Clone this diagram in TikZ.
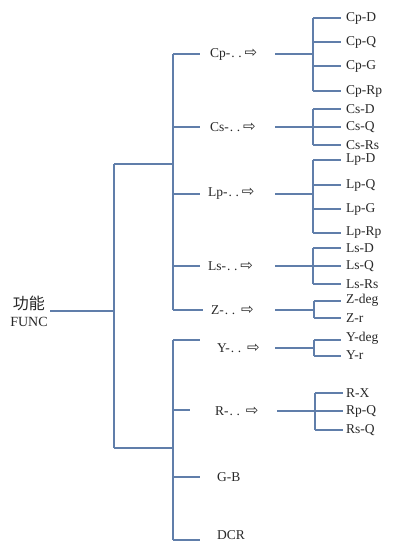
\documentclass[tikz,border=0pt]{standalone}
\usepackage{fontspec}
\setmainfont{Liberation Serif}
\newfontfamily\cjk{Noto Sans CJK SC}
\newfontfamily\symf{DejaVu Sans}
\newcommand{\arr}{{\symf\fontsize{15}{15}\selectfont ⇨}}
\newcommand{\dd}{\kern1pt.\kern3.5pt.\kern3pt}
\definecolor{linec}{RGB}{96,126,170}
\definecolor{txtc}{RGB}{40,40,40}
\begin{document}
\begin{tikzpicture}[x=1pt,y=-1pt,
  ln/.style={draw=linec,line width=1.1pt},
  mid/.style={text=txtc,font=\fontsize{13.5}{14}\selectfont,inner sep=1pt,anchor=west},
  leaf/.style={text=txtc,font=\fontsize{13.5}{14}\selectfont,inner sep=1pt,anchor=west}]
\useasboundingbox (0,0) rectangle (396,542);
% root
\node[text=txtc,font=\fontsize{14}{17}\selectfont,align=center,inner sep=1pt] (root) at (29,311) {{\cjk\fontsize{16}{17}\selectfont 功能}\\FUNC};
\coordinate (v1) at (114,311);
\coordinate (v1t) at (114,164);
\coordinate (v1b) at (114,448);
\coordinate (rootE) at (50,311);
\draw[ln] (rootE) -- (v1);
\draw[ln] (v1t) -- (v1b);
\coordinate (gAj) at (173,164);
\coordinate (gBj) at (173,448);
\draw[ln] (v1t) -- (gAj);
\draw[ln] (v1b) -- (gBj);
% group A vertical
\coordinate (gAt) at (173,54);
\coordinate (gAb) at (173,310);
\draw[ln] (gAt) -- (gAb);
% group B vertical
\coordinate (gBt) at (173,340);
\coordinate (gBb) at (173,540);
\draw[ln] (gBt) -- (gBb);
% second-level labels
\node[mid] (cp) at (209,54) {Cp-\dd\arr};
\node[mid] (cs) at (209,127) {Cs-\dd\arr};
\node[mid] (lp) at (207,194) {Lp-\dd\arr};
\node[mid] (ls) at (207,266) {Ls-\dd\arr};
\node[mid] (z) at (210,310) {Z-\dd\kern3pt\arr};
\node[mid] (y) at (216,348) {Y-\dd\kern3pt\arr};
\node[mid] (r) at (214,411) {R-\dd\kern3pt\arr};
\node[mid] (gb) at (216,477) {G-B};
\node[mid] (dcr) at (216,535) {DCR};
% second-level branches
\coordinate (bcp) at (200,54);
\coordinate (bcs) at (200,127);
\coordinate (blp) at (200,194);
\coordinate (bls) at (200,266);
\coordinate (bz) at (203,310);
\coordinate (by) at (200,340);
\coordinate (br) at (190,410);
\coordinate (bgb) at (200,477);
\coordinate (bdcr) at (200,540);
\draw[ln] (gAt) -- (bcp);
\draw[ln] (173,127) -- (bcs);
\draw[ln] (173,194) -- (blp);
\draw[ln] (173,266) -- (bls);
\draw[ln] (gAb) -- (bz);
\draw[ln] (gBt) -- (by);
\draw[ln] (173,410) -- (br);
\draw[ln] (173,477) -- (bgb);
\draw[ln] (gBb) -- (bdcr);
% third-level
% Cp
\coordinate (cpv) at (313,54);
\draw[ln] (275,54) -- (cpv);
\draw[ln] (313,18) -- (313,91);
\node[leaf] (cpd) at (345,18) {Cp-D};
\node[leaf] (cpq) at (345,42) {Cp-Q};
\node[leaf] (cpg) at (345,66) {Cp-G};
\node[leaf] (cprp) at (345,91) {Cp-Rp};
\foreach \n/\yy in {cpd/18,cpq/42,cpg/66,cprp/91} \draw[ln] (313,\yy) -- (341,\yy);
% Cs
\draw[ln] (313,109) -- (313,145);
\node[leaf] (csd) at (345,109) {Cs-D};
\node[leaf] (csq) at (345,127) {Cs-Q};
\node[leaf] (csrs) at (345,145) {Cs-Rs};
\draw[ln] (275,127) -- (341,127);
\foreach \n/\yy in {csd/109,csrs/145} \draw[ln] (313,\yy) -- (341,\yy);
% Lp
\draw[ln] (275,194) -- (313,194);
\draw[ln] (313,160) -- (313,233);
\node[leaf] (lpd) at (345,160) {Lp-D};
\node[leaf] (lpq) at (345,185) {Lp-Q};
\node[leaf] (lpg) at (345,209) {Lp-G};
\node[leaf] (lprp) at (345,233) {Lp-Rp};
\foreach \n/\yy in {lpd/160,lpq/185,lpg/209,lprp/233} \draw[ln] (313,\yy) -- (341,\yy);
% Ls
\draw[ln] (313,248) -- (313,284);
\node[leaf] (lsd) at (345,248) {Ls-D};
\node[leaf] (lsq) at (345,266) {Ls-Q};
\node[leaf] (lsrs) at (345,284) {Ls-Rs};
\draw[ln] (275,266) -- (341,266);
\foreach \n/\yy in {lsd/248,lsrs/284} \draw[ln] (313,\yy) -- (341,\yy);
% Z
\draw[ln] (275,310) -- (314,310);
\draw[ln] (314,301) -- (314,318);
\node[leaf] (zdeg) at (345,300) {Z-deg};
\node[leaf] (zr) at (345,318) {Z-r};
\draw[ln] (314,301) -- (341,301);
\draw[ln] (314,318) -- (341,318);
% Y
\draw[ln] (275,348) -- (314,348);
\draw[ln] (314,340) -- (314,356);
\node[leaf] (ydeg) at (345,338) {Y-deg};
\node[leaf] (yr) at (345,355) {Y-r};
\draw[ln] (314,340) -- (341,340);
\draw[ln] (314,356) -- (341,356);
% R
\draw[ln] (315,393) -- (315,430);
\node[leaf] (rx) at (345,393) {R-X};
\node[leaf] (rpq) at (345,411) {Rp-Q};
\node[leaf] (rsq) at (345,430) {Rs-Q};
\draw[ln] (277,411) -- (343,411);
\draw[ln] (315,393) -- (343,393);
\draw[ln] (315,430) -- (343,430);
\end{tikzpicture}
\end{document}
